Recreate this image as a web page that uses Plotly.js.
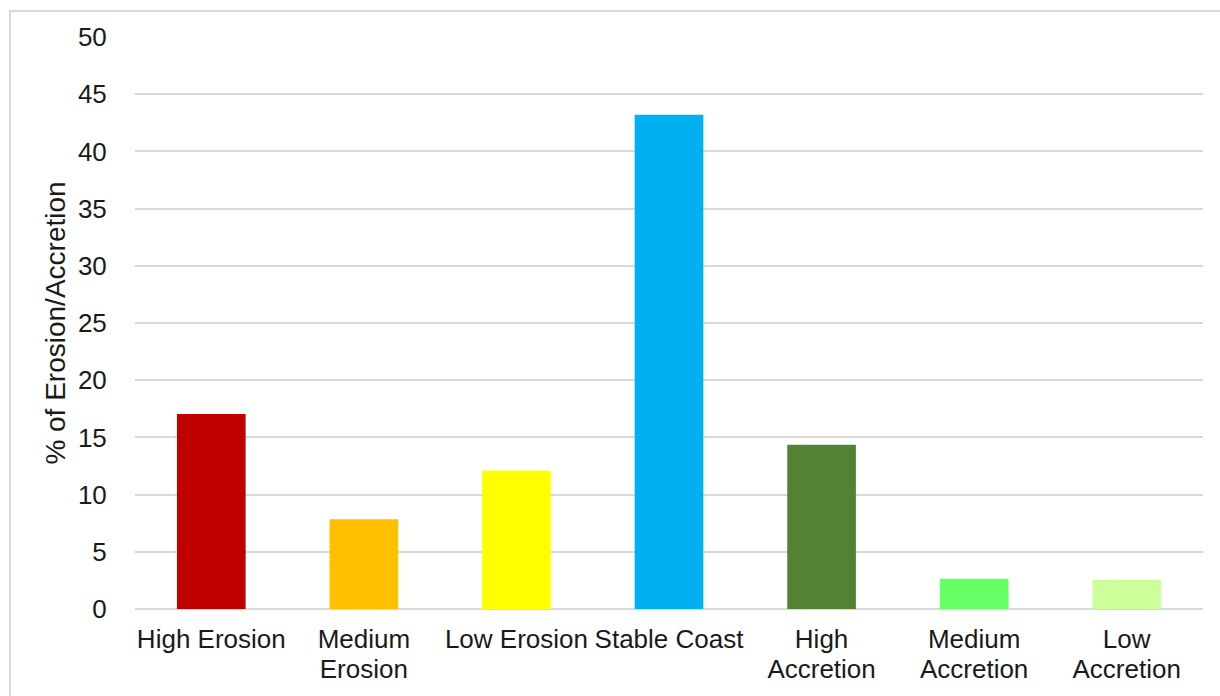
<!DOCTYPE html>
<html>
<head>
<meta charset="utf-8">
<script src="https://cdn.plot.ly/plotly-3.0.1.min.js"></script>
<style>
html, body { margin: 0; padding: 0; background: #fff; }
#wrap { position: relative; width: 1220px; height: 696px; overflow: hidden; }
#frame { position: absolute; left: 9px; top: 10px; width: 1240px; height: 720px; border: 2px solid #d9d9d9; box-sizing: border-box; pointer-events: none; }
#chart { position: absolute; left: 0; top: 0; width: 1220px; height: 696px; }
</style>
</head>
<body>
<div id="wrap">
<div id="chart"></div>
<div id="frame"></div>
</div>
<script>
const categories = ["High Erosion", "Medium Erosion", "Low Erosion", "Stable Coast", "High Accretion", "Medium Accretion", "Low Accretion"];
const labelLine1 = ["High Erosion", "Medium", "Low Erosion", "Stable Coast", "High", "Medium", "Low"];
const labelLine2 = ["", "Erosion", "", "", "Accretion", "Accretion", "Accretion"];
const values = [17.05, 7.85, 12.1, 43.2, 14.35, 2.65, 2.55];
const colors = ["#c00000", "#ffc000", "#ffff00", "#00b0f0", "#548235", "#66ff66", "#ccff99"];
const yTickVals = [0, 5, 10, 15, 20, 25, 30, 35, 40, 45, 50];
const yTitle = "% of Erosion/Accretion";

const font = "Liberation Sans, Arial, sans-serif";
const tf = { family: font, size: 26, color: "#1a1a1a" };
const idx = categories.map((c, i) => i);
Plotly.newPlot("chart", [{
  type: "bar",
  x: categories,
  y: values,
  marker: { color: colors, line: { width: 0 } },
  hoverinfo: "x+y"
}, {
  // invisible helper trace so the second-line label axis is drawn
  type: "scatter", mode: "markers",
  x: idx, y: idx.map(() => 0),
  xaxis: "x2", yaxis: "y",
  marker: { opacity: 0, size: 1 },
  hoverinfo: "skip", showlegend: false
}], {
  width: 1220, height: 696,
  margin: { l: 135, r: 17, t: 37, b: 87 },
  paper_bgcolor: "#fff", plot_bgcolor: "#fff",
  bargap: 0.55,
  showlegend: false,
  font: tf,
  xaxis: {
    type: "category",
    tickmode: "array", tickvals: categories, ticktext: labelLine1,
    tickfont: tf,
    ticks: "outside", ticklen: 7, tickcolor: "rgba(0,0,0,0)",
    showgrid: false, showline: false, zeroline: false,
    automargin: false
  },
  xaxis2: {
    type: "linear", overlaying: "x", anchor: "y", side: "bottom",
    range: [-0.5, categories.length - 0.5],
    tickmode: "array", tickvals: idx, ticktext: labelLine2,
    tickfont: tf,
    ticks: "outside", ticklen: 37, tickcolor: "rgba(0,0,0,0)",
    showgrid: false, showline: false, zeroline: false,
    automargin: false, fixedrange: true
  },
  yaxis: {
    range: [0, 50],
    tickvals: yTickVals,
    tickfont: tf,
    ticks: "outside", ticklen: 22, tickcolor: "rgba(0,0,0,0)",
    showgrid: true, gridcolor: "#d9d9d9", gridwidth: 2,
    zeroline: true, zerolinecolor: "#d9d9d9", zerolinewidth: 2,
    showline: false,
    automargin: false,
    title: { text: yTitle, font: { family: font, size: 28, color: "#1a1a1a" }, standoff: 4 }
  }
}, { displayModeBar: false, staticPlot: true });
</script>
</body>
</html>
